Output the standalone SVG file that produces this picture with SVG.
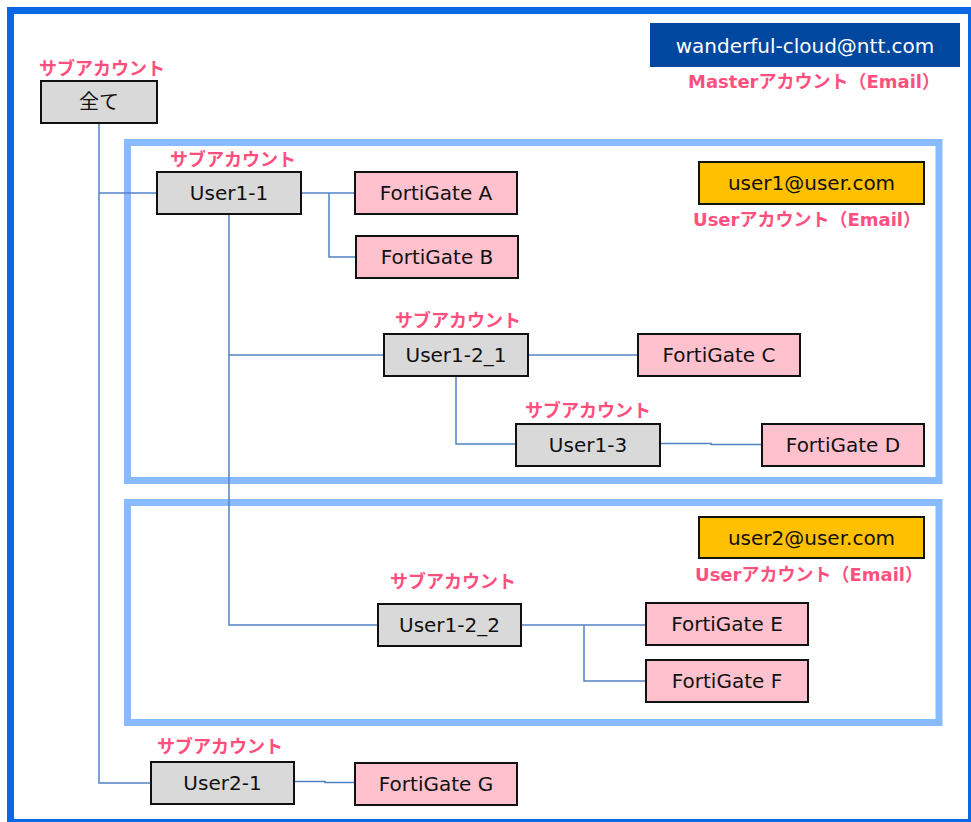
<svg xmlns="http://www.w3.org/2000/svg" width="971" height="822" viewBox="0 0 971 822">
<style>
.frame{fill:none;stroke:#0A68E6;stroke-width:7}
.grp{fill:none;stroke:#88BAFF;stroke-width:7}
.con{fill:none;stroke:#5282C2;stroke-width:1.5}
.acc{fill:#D9D9D9;stroke:#111;stroke-width:2}
.fg{fill:#FFC1CE;stroke:#111;stroke-width:2}
.em{fill:#FFC000;stroke:#111;stroke-width:2}
.t{font-family:"DejaVu Sans","Noto Sans CJK JP",sans-serif;font-size:20px;fill:#111;text-anchor:middle}
.lbl{font-family:"DejaVu Sans","Noto Sans CJK JP",sans-serif;font-size:18px;font-weight:bold;fill:#FF4F7E;text-anchor:middle}
</style>
<rect x="0" y="0" width="971" height="822" fill="#fff"/>
<rect class="frame" x="10.5" y="10.5" width="961" height="812"/>
<rect class="grp" x="127.5" y="142.5" width="811.5" height="338"/>
<rect class="grp" x="127.5" y="502.5" width="811.5" height="220"/>
<g id="connectors">
<path class="con" d="M99 123 V783 H151"/>
<path class="con" d="M99 193 H157"/>
<path class="con" d="M301 193 H355"/>
<path class="con" d="M329 193 V257 H356"/>
<path class="con" d="M229 214 V625 H378"/>
<path class="con" d="M229 355 H384"/>
<path class="con" d="M528 355 H638"/>
<path class="con" d="M456 376 V444 H516"/>
<path class="con" d="M660 443.5 H711 V444.5 H762"/>
<path class="con" d="M521 625 H646"/>
<path class="con" d="M584 625 V681 H646"/>
<path class="con" d="M294 781.5 H325 V782.5 H355"/>
</g>
<g id="master">
<rect x="650" y="23" width="310" height="44" fill="#0047A0"/>
<text class="t" x="805" y="53" style="fill:#fff">wanderful-cloud@ntt.com</text>
<text class="lbl" x="814" y="88">Masterアカウント（Email）</text>
</g>
<g id="user1mail">
<rect class="em" x="699" y="162" width="225" height="42"/>
<text class="t" x="811.5" y="190">user1@user.com</text>
<text class="lbl" x="807" y="226">Userアカウント（Email）</text>
</g>
<g id="user2mail">
<rect class="em" x="699" y="517" width="225" height="41"/>
<text class="t" x="811.5" y="545">user2@user.com</text>
<text class="lbl" x="809" y="581">Userアカウント（Email）</text>
</g>
<g id="all">
<text class="lbl" x="102" y="75">サブアカウント</text>
<rect class="acc" x="41" y="81" width="116" height="42"/>
<text class="t" x="99" y="109">全て</text>
</g>
<g id="user1-1">
<text class="lbl" x="233" y="166">サブアカウント</text>
<rect class="acc" x="157" y="172" width="144" height="42"/>
<text class="t" x="229" y="200">User1-1</text>
</g>
<g id="fgA">
<rect class="fg" x="355" y="172" width="162" height="42"/>
<text class="t" x="436" y="200">FortiGate A</text>
</g>
<g id="fgB">
<rect class="fg" x="356" y="236" width="162" height="42"/>
<text class="t" x="437" y="264">FortiGate B</text>
</g>
<g id="user1-2_1">
<text class="lbl" x="458" y="327">サブアカウント</text>
<rect class="acc" x="384" y="334" width="144" height="42"/>
<text class="t" x="456" y="362">User1-2_1</text>
</g>
<g id="fgC">
<rect class="fg" x="638" y="334" width="162" height="42"/>
<text class="t" x="719" y="362">FortiGate C</text>
</g>
<g id="user1-3">
<text class="lbl" x="588" y="417">サブアカウント</text>
<rect class="acc" x="516" y="424" width="144" height="42"/>
<text class="t" x="588" y="452">User1-3</text>
</g>
<g id="fgD">
<rect class="fg" x="762" y="424" width="162" height="42"/>
<text class="t" x="843" y="452">FortiGate D</text>
</g>
<g id="user1-2_2">
<text class="lbl" x="453" y="588">サブアカウント</text>
<rect class="acc" x="378" y="604" width="143" height="42"/>
<text class="t" x="449.5" y="632">User1-2_2</text>
</g>
<g id="fgE">
<rect class="fg" x="646" y="603" width="162" height="42"/>
<text class="t" x="727" y="631">FortiGate E</text>
</g>
<g id="fgF">
<rect class="fg" x="646" y="660" width="162" height="42"/>
<text class="t" x="727" y="688">FortiGate F</text>
</g>
<g id="user2-1">
<text class="lbl" x="220" y="753">サブアカウント</text>
<rect class="acc" x="151" y="762" width="143" height="42"/>
<text class="t" x="222.5" y="790">User2-1</text>
</g>
<g id="fgG">
<rect class="fg" x="355" y="763" width="162" height="42"/>
<text class="t" x="436" y="791">FortiGate G</text>
</g>
</svg>
